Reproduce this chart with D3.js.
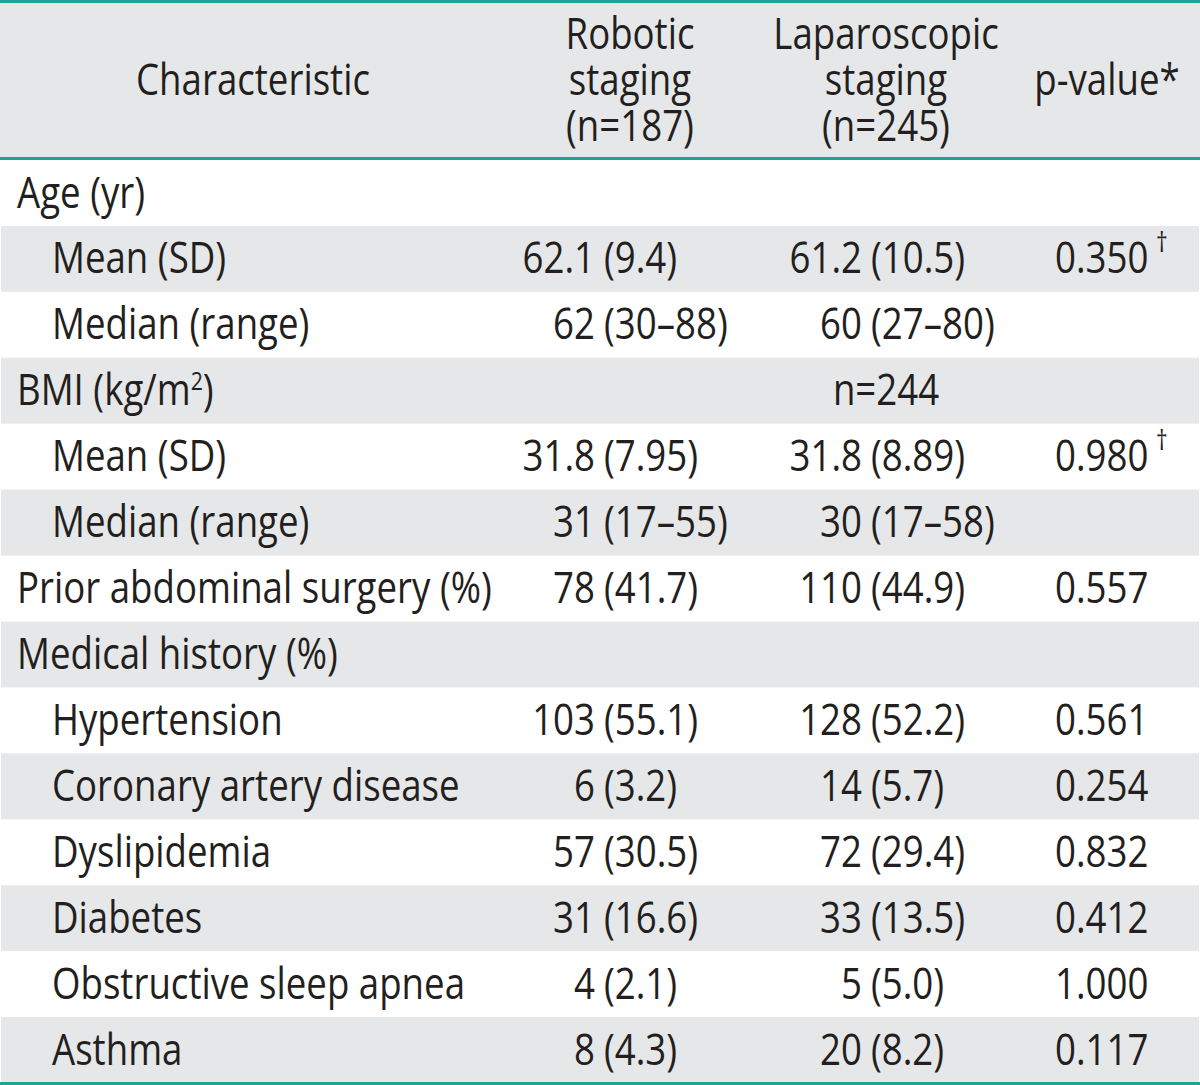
<!DOCTYPE html>
<html>
<head>
<meta charset="utf-8">
<script src="https://cdn.jsdelivr.net/npm/d3@7"></script>
<style>
  html, body { margin: 0; padding: 0; background: #ffffff; }
  svg { display: block; }
</style>
</head>
<body>
<svg id="chart" width="1200" height="1085"></svg>
<script>
// ---- data ----
const headerLines = [
  ["Characteristic"],
  ["Robotic", "staging", "(n=187)"],
  ["Laparoscopic", "staging", "(n=245)"],
  ["p-value*"]
];
const characteristics = [
  "Age (yr)", "Mean (SD)", "Median (range)", "BMI (kg/m|2|)", "Mean (SD)", "Median (range)",
  "Prior abdominal surgery (%)", "Medical history (%)", "Hypertension", "Coronary artery disease",
  "Dyslipidemia", "Diabetes", "Obstructive sleep apnea", "Asthma"
];
const indentLevel = [0, 1, 1, 0, 1, 1, 0, 0, 1, 1, 1, 1, 1, 1];
const robotic = [
  "", "62.1 (9.4)", "62 (30–88)", "", "31.8 (7.95)", "31 (17–55)", "78 (41.7)", "",
  "103 (55.1)", "6 (3.2)", "57 (30.5)", "31 (16.6)", "4 (2.1)", "8 (4.3)"
];
const laparoscopic = [
  "", "61.2 (10.5)", "60 (27–80)", "n=244", "31.8 (8.89)", "30 (17–58)", "110 (44.9)", "",
  "128 (52.2)", "14 (5.7)", "72 (29.4)", "33 (13.5)", "5 (5.0)", "20 (8.2)"
];
const pValues = [
  "", "0.350", "", "", "0.980", "", "0.557", "",
  "0.561", "0.254", "0.832", "0.412", "1.000", "0.117"
];
const pNotes = ["", "†", "", "", "†", "", "", "", "", "", "", "", "", ""];

// ---- style / layout ----
const W = 1200, H = 1085;
const TEAL = "#1fa396", GREY = "#e6e7e8", INK = "#231f20";
const FONT = "'Open Sans', 'Noto Sans', sans-serif";
const FS = 43, SX = 0.852;

const svg = d3.select("#chart");

const rowScale = d3.scaleBand().domain(d3.range(characteristics.length)).range([160, 1083]);
const colCenter = [253, 630, 886, 1107];
const labelX = [17, 52];
const splitX = { rob: 604, lap: 871 };
const pX = 1055;
const baseOff = 47.5;
const headerLead = 46;

function txt(g, x, y, anchor) {
  return g.append("text")
    .attr("transform", `translate(${x},${y}) scale(${SX},1)`)
    .attr("text-anchor", anchor)
    .attr("font-family", FONT)
    .attr("font-size", FS)
    .attr("fill", INK);
}

// header background
svg.append("rect").attr("x", 0).attr("y", 0).attr("width", W).attr("height", 158).attr("fill", GREY);

// row backgrounds
svg.append("g").selectAll("rect")
  .data(characteristics.map((d, i) => i).filter(i => i % 2 === 1))
  .join("rect")
  .attr("x", 1).attr("width", W - 2)
  .attr("y", i => rowScale(i)).attr("height", rowScale.bandwidth())
  .attr("fill", GREY);

// lines
[[1.5, 3], [158.5, 3], [1083.5, 3]].forEach(([y, w]) => {
  svg.append("line").attr("x1", 0).attr("x2", W).attr("y1", y).attr("y2", y)
    .attr("stroke", TEAL).attr("stroke-width", w);
});

// header text (one text element per column, lines as tspans)
const hg = svg.append("g");
const hMid = 95;
headerLines.forEach((lines, c) => {
  const firstBase = hMid - (lines.length - 1) / 2 * headerLead;
  const t = txt(hg, colCenter[c], firstBase, "middle");
  lines.forEach((s, k) => {
    t.append("tspan").attr("x", 0).attr("dy", k === 0 ? 0 : headerLead).text(s);
  });
});

// body
const bg = svg.append("g");
characteristics.forEach((label, i) => {
  const y = rowScale(i) + baseOff;
  const t = txt(bg, labelX[indentLevel[i]], y, "start");
  const parts = label.split("|");
  t.append("tspan").text(parts[0]);
  if (parts.length > 1) {
    t.append("tspan").attr("font-size", 25).attr("dy", -15).text(parts[1]);
    t.append("tspan").attr("dy", 15).text(parts[2]);
  }

  [[robotic[i], splitX.rob, colCenter[1]], [laparoscopic[i], splitX.lap, colCenter[2]]].forEach(([v, sx, cx]) => {
    if (!v) return;
    const k = v.indexOf(" (");
    if (k < 0) {
      txt(bg, cx, y, "middle").text(v);
    } else {
      txt(bg, sx - 9, y, "end").text(v.slice(0, k));
      txt(bg, sx, y, "start").text(v.slice(k + 1));
    }
  });

  if (pValues[i]) {
    const pt = txt(bg, pX, y, "start");
    pt.append("tspan").text(pValues[i]);
    if (pNotes[i]) {
      pt.append("tspan").attr("font-size", 27).attr("dx", 9).attr("dy", -21).text(pNotes[i]);
    }
  }
});
</script>
</body>
</html>
